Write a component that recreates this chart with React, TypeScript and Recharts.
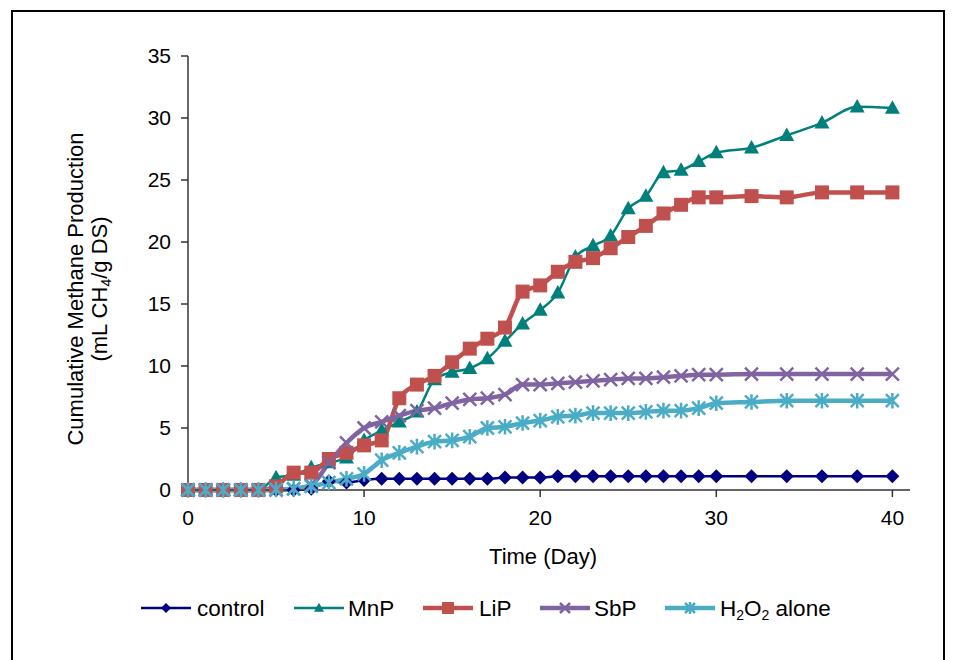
import React from "react";
import { Line, LineChart, XAxis, YAxis } from "recharts";

const FONT = "'Liberation Sans', Arial, sans-serif";

// sampling days: daily to day 30, then every second day
const days = [
  0, 1, 2, 3, 4, 5, 6, 7, 8, 9, 10, 11, 12, 13, 14, 15, 16, 17, 18, 19, 20,
  21, 22, 23, 24, 25, 26, 27, 28, 29, 30, 32, 34, 36, 38, 40,
];

// cumulative methane, mL CH4 / g DS
const control = [
  0, 0, 0, 0, 0, 0, 0, 0.1, 0.7, 0.6, 0.8, 0.9, 0.9, 0.9, 0.9, 0.9, 0.9, 0.9,
  1.0, 1.0, 1.0, 1.1, 1.1, 1.1, 1.1, 1.1, 1.1, 1.1, 1.1, 1.1, 1.1, 1.1, 1.1,
  1.1, 1.1, 1.1,
];
const mnp = [
  0, 0, 0, 0, 0, 1.0, 1.2, 1.8, 2.2, 2.6, 4.0, 4.8, 5.5, 6.3, 8.9, 9.5, 9.8,
  10.6, 12.0, 13.4, 14.5, 15.9, 18.8, 19.7, 20.5, 22.7, 23.7, 25.6, 25.8, 26.5,
  27.2, 27.6, 28.6, 29.6, 30.9, 30.8,
];
const lip = [
  0, 0, 0, 0, 0, 0.3, 1.4, 1.4, 2.5, 3.0, 3.6, 4.0, 7.4, 8.5, 9.2, 10.3, 11.4,
  12.2, 13.1, 16.0, 16.5, 17.6, 18.4, 18.7, 19.5, 20.4, 21.3, 22.3, 23.0, 23.6,
  23.6, 23.7, 23.6, 24.0, 24.0, 24.0,
];
const sbp = [
  0, 0, 0, 0, 0, 0, 0.1, 0.4, 2.2, 3.8, 5.0, 5.5, 6.0, 6.4, 6.6, 7.0, 7.3, 7.4,
  7.7, 8.5, 8.5, 8.6, 8.7, 8.8, 8.9, 9.0, 9.0, 9.1, 9.2, 9.3, 9.3, 9.35, 9.35,
  9.35, 9.35, 9.35,
];
const h2o2 = [
  0, 0, 0, 0, 0, 0.05, 0.1, 0.3, 0.6, 0.9, 1.3, 2.4, 3.0, 3.5, 3.9, 4.0, 4.3,
  5.0, 5.1, 5.4, 5.6, 5.9, 6.0, 6.2, 6.2, 6.2, 6.3, 6.4, 6.4, 6.6, 7.0, 7.1,
  7.2, 7.2, 7.2, 7.2,
];

const xTicks = [0, 10, 20, 30, 40];
const yTicks = [0, 5, 10, 15, 20, 25, 30, 35];

const data = days.map((day, i) => ({
  day,
  control: control[i],
  mnp: mnp[i],
  lip: lip[i],
  sbp: sbp[i],
  h2o2: h2o2[i],
}));

const C_CONTROL = "#000080";
const C_MNP = "#00807c";
const C_LIP = "#c0504d";
const C_SBP = "#8064a2";
const C_H2O2 = "#4bacc6";

// marker shapes, shared by the plot and the legend
function marker(kind: string, x: number, y: number, r: number, color: string, key?: any) {
  switch (kind) {
    case "diamond":
      return (
        <path key={key} d={`M${x},${y - r}L${x + r},${y}L${x},${y + r}L${x - r},${y}Z`} fill={color} />
      );
    case "triangle":
      return (
        <path
          key={key}
          d={`M${x},${y - r * 1.05}L${x + r},${y + r * 0.75}L${x - r},${y + r * 0.75}Z`}
          fill={color}
        />
      );
    case "square":
      return <rect key={key} x={x - r} y={y - r} width={r * 2} height={r * 2} fill={color} />;
    case "x":
      return (
        <path
          key={key}
          d={`M${x - r},${y - r}L${x + r},${y + r}M${x - r},${y + r}L${x + r},${y - r}`}
          stroke={color}
          strokeWidth={2.5}
          fill="none"
        />
      );
    default:
      return (
        <path
          key={key}
          d={`M${x - r},${y - r}L${x + r},${y + r}M${x - r},${y + r}L${x + r},${y - r}M${x},${y - r * 1.2}L${x},${y + r * 1.2}`}
          stroke={color}
          strokeWidth={2.5}
          fill="none"
        />
      );
  }
}

const dotOf = (kind: string, r: number, color: string) => (p: any) => {
  if (p.cx == null || p.cy == null) return <g key={p.index} />;
  return marker(kind, p.cx, p.cy, r, color, p.index);
};

const series = [
  { key: "control", name: "control", color: C_CONTROL, width: 2.5, kind: "diamond", r: 7 },
  { key: "mnp", name: "MnP", color: C_MNP, width: 2.5, kind: "triangle", r: 7.5 },
  { key: "lip", name: "LiP", color: C_LIP, width: 4.5, kind: "square", r: 7 },
  { key: "sbp", name: "SbP", color: C_SBP, width: 4.5, kind: "x", r: 6.5 },
  { key: "h2o2", name: "H2O2 alone", color: C_H2O2, width: 4.5, kind: "star", r: 6.5 },
];

// legend x positions (line start, text start)
const legendPos = [
  [133, 189],
  [286, 340],
  [415, 471],
  [532, 586],
  [657, 712],
];

function XTitle(props: any) {
  const vb = props.viewBox;
  return (
    <text
      x={vb.x + vb.width / 2 - 6}
      y={vb.y + 74}
      textAnchor="middle"
      fontSize={22}
      fontFamily={FONT}
      fill="#000"
    >
      Time (Day)
    </text>
  );
}

function YTitle() {
  return (
    <g transform="translate(75, 281) rotate(-90)" fontFamily={FONT} fontSize={22} fill="#000">
      <text x={0} y={0} textAnchor="middle">
        Cumulative Methane Production
      </text>
      <text x={0} y={24} textAnchor="middle">
        (mL CH<tspan fontSize={14} dy={4}>4</tspan>
        <tspan dy={-4}>/g DS)</tspan>
      </text>
    </g>
  );
}

function LegendRow() {
  return (
    <svg
      width={940}
      height={40}
      style={{ position: "absolute", left: 0, top: 580 }}
      fontFamily={FONT}
    >
      {series.map((s, i) => {
        const [lx, tx] = legendPos[i];
        const y = 20;
        return (
          <g key={s.key}>
            <line x1={lx} x2={lx + 50} y1={y} y2={y} stroke={s.color} strokeWidth={s.width} />
            {marker(s.kind, lx + 25, y, s.kind === "square" ? 6 : 5, s.color)}
            <text x={tx} y={y} dy="0.36em" fontSize={22.5} fill="#000">
              {s.key === "h2o2" ? (
                <>
                  H<tspan fontSize={14} dy={4}>2</tspan>
                  <tspan dy={-4}>O</tspan>
                  <tspan fontSize={14} dy={4}>2</tspan>
                  <tspan dy={-4}> alone</tspan>
                </>
              ) : (
                s.name
              )}
            </text>
          </g>
        );
      })}
    </svg>
  );
}

export default function App() {
  return (
    <div style={{ position: "relative", width: 940, height: 652, background: "#fff" }}>
      <div
        style={{
          position: "absolute",
          left: 3,
          top: 2,
          width: 934,
          height: 650,
          boxSizing: "border-box",
          borderTop: "2px solid #000",
          borderLeft: "2px solid #000",
          borderRight: "2px solid #000",
        }}
      />
      <LineChart
        width={940}
        height={652}
        data={data}
        margin={{ top: 48, right: 38, left: 80, bottom: 110 }}
        style={{ position: "absolute", left: 0, top: 0 }}
      >
        <XAxis
          dataKey="day"
          type="number"
          domain={[0, 41]}
          ticks={xTicks}
          interval={0}
          height={60}
          stroke="#333"
          strokeWidth={1.5}
          tickSize={7}
          tickMargin={13}
          tick={{ fontSize: 21, fill: "#000", fontFamily: FONT }}
          label={<XTitle />}
        />
        <YAxis
          type="number"
          domain={[0, 35]}
          ticks={yTicks}
          interval={0}
          width={100}
          stroke="#333"
          strokeWidth={1.5}
          tickSize={7}
          tickMargin={10}
          tick={{ fontSize: 21, fill: "#000", fontFamily: FONT }}
          label={<YTitle />}
        />
        {series.map((s) => (
          <Line
            key={s.key}
            dataKey={s.key}
            type="monotone"
            stroke={s.color}
            strokeWidth={s.width}
            dot={dotOf(s.kind, s.r, s.color)}
            activeDot={false}
            isAnimationActive={false}
          />
        ))}
      </LineChart>
      <LegendRow />
    </div>
  );
}
